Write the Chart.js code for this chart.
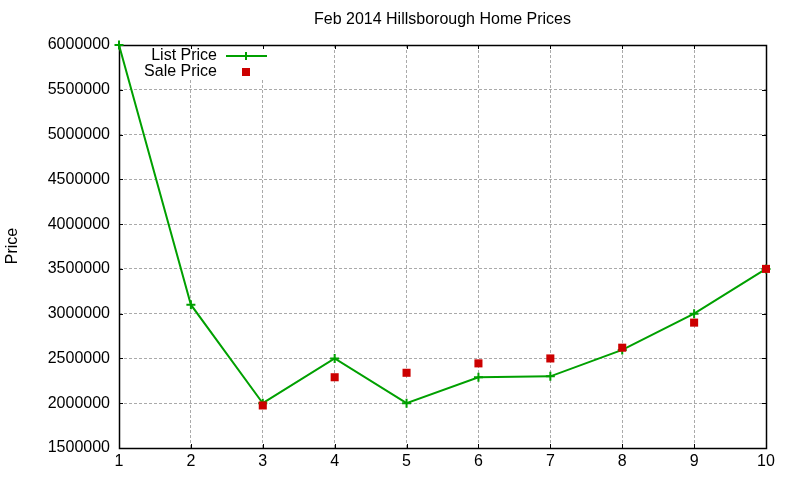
<!DOCTYPE html>
<html>
<head>
<meta charset="utf-8">
<script src="https://cdn.jsdelivr.net/npm/chart.js@4"></script>
<style>
html,body{margin:0;padding:0;background:#fff;}
canvas{display:block;}
</style>
</head>
<body>
<canvas id="c" width="800" height="480"></canvas>
<script>
const categories = [1, 2, 3, 4, 5, 6, 7, 8, 9, 10];
const listPrice = [6000000, 3100000, 2000000, 2500000, 2000000, 2290000, 2300000, 2595000, 3000000, 3500000];
const salePrice = [null, null, 1975000, 2290000, 2340000, 2445000, 2500000, 2620000, 2900000, 3500000];
const titleText = 'Feb 2014 Hillsborough Home Prices';
const yTitle = 'Price';
const seriesNames = ['List Price', 'Sale Price'];

const GREEN = '#00a000';
const RED = '#cc0000';
const FONT = '"Liberation Sans", Arial, sans-serif';

const gnuPlugin = {
  id: 'gnu',
  beforeDatasetsDraw(chart) {
    const ctx = chart.ctx, a = chart.chartArea;
    const xs = chart.scales.x, ys = chart.scales.y;
    ctx.save();
    ctx.fillStyle = '#fff';
    ctx.fillRect(138, a.top + 1, 135, 34);
    ctx.strokeStyle = '#000';
    ctx.lineWidth = 1;
    ctx.beginPath();
    ys.ticks.forEach(t => {
      const y = Math.round(ys.getPixelForValue(t.value)) + 0.5;
      ctx.moveTo(a.left, y); ctx.lineTo(a.left + 4, y);
      ctx.moveTo(a.right, y); ctx.lineTo(a.right - 4, y);
    });
    xs.ticks.forEach(t => {
      const x = Math.round(xs.getPixelForValue(t.value)) + 0.5;
      ctx.moveTo(x, a.top); ctx.lineTo(x, a.top + 4);
      ctx.moveTo(x, a.bottom); ctx.lineTo(x, a.bottom - 4);
    });
    ctx.stroke();
    ctx.lineWidth = 1.5;
    ctx.strokeRect(Math.round(a.left) + 0.5, Math.round(a.top) + 0.5, Math.round(a.right - a.left), Math.round(a.bottom - a.top));
    ctx.restore();
  },
  afterDraw(chart) {
    const ctx = chart.ctx, a = chart.chartArea;
    ctx.save();
    ctx.fillStyle = '#000';
    ctx.font = '16px ' + FONT;
    ctx.textAlign = 'center';
    ctx.textBaseline = 'middle';
    ctx.fillText(titleText, (a.left + a.right) / 2, 20);
    ctx.save();
    ctx.translate(13, 246);
    ctx.rotate(-Math.PI / 2);
    ctx.fillText(yTitle, 0, 0);
    ctx.restore();
    ctx.textAlign = 'right';
    ctx.fillText(seriesNames[0], 217, 56);
    ctx.fillText(seriesNames[1], 217, 72);
    ctx.strokeStyle = GREEN;
    ctx.lineWidth = 2;
    ctx.beginPath();
    ctx.moveTo(226, 56); ctx.lineTo(267, 56);
    ctx.moveTo(246, 52); ctx.lineTo(246, 60);
    ctx.stroke();
    ctx.fillStyle = RED;
    ctx.fillRect(242, 68, 8, 8);
    ctx.restore();
  }
};

new Chart(document.getElementById('c'), {
  type: 'line',
  data: {
    datasets: [
      {
        label: seriesNames[0],
        data: categories.map((c, i) => ({ x: c, y: listPrice[i] })),
        borderColor: GREEN,
        backgroundColor: GREEN,
        borderWidth: 2,
        pointStyle: 'cross',
        pointRadius: 4.5,
        pointBorderWidth: 2,
        tension: 0,
        fill: false,
        clip: 8,
        order: 1
      },
      {
        label: seriesNames[1],
        data: categories.map((c, i) => ({ x: c, y: salePrice[i] })),
        showLine: false,
        borderColor: RED,
        backgroundColor: RED,
        pointStyle: 'rect',
        pointRadius: 5.7,
        pointBorderWidth: 0,
        clip: 8,
        order: 0
      }
    ]
  },
  options: {
    responsive: false,
    animation: false,
    devicePixelRatio: 1,
    layout: { padding: { top: 45, right: 34, left: 0, bottom: 0 } },
    plugins: { legend: { display: false }, title: { display: false }, tooltip: { enabled: false } },
    scales: {
      x: {
        type: 'linear', min: 1, max: 10,
        ticks: { stepSize: 1, color: '#000', font: { size: 16, family: FONT }, padding: 4, maxRotation: 0 },
        grid: { color: '#aaaaaa', drawTicks: false },
        border: { display: false, dash: [3, 2] },
        afterFit(s) { s.height = 32; }
      },
      y: {
        min: 1500000, max: 6000000,
        ticks: { stepSize: 500000, color: '#000', font: { size: 16, family: FONT }, padding: 9, callback: v => String(v) },
        grid: { color: '#aaaaaa', drawTicks: false },
        border: { display: false, dash: [3, 2] },
        afterFit(s) { s.width = 119; }
      }
    }
  },
  plugins: [gnuPlugin]
});
</script>
</body>
</html>
